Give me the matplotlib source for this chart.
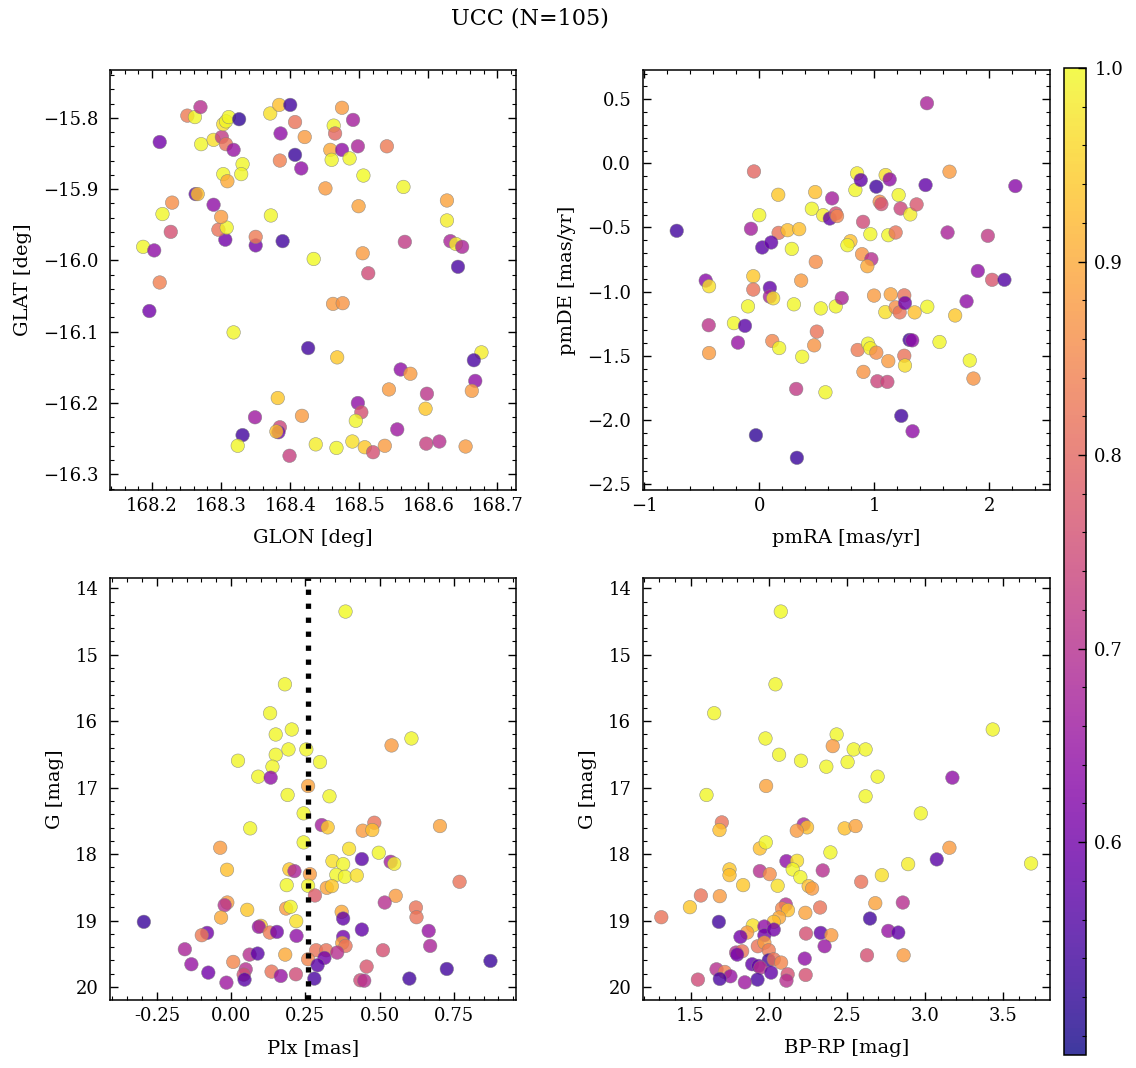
import matplotlib
matplotlib.use("Agg")
import matplotlib.pyplot as plt
from matplotlib.ticker import MultipleLocator, AutoMinorLocator
from matplotlib.colors import Normalize

# panel 1: sky positions
glon = [168.211, 168.251, 168.262, 168.270, 168.271, 168.289, 168.301, 168.303, 168.307, 168.311,
        168.326, 168.307, 168.318, 168.331, 168.303, 168.329, 168.309, 168.371, 168.384, 168.400,
        168.407, 168.386, 168.421, 168.407, 168.385, 168.416, 168.475, 168.463, 168.465, 168.491,
        168.458, 168.475, 168.498, 168.460, 168.486, 168.540, 168.506, 168.451, 168.564, 168.499,
        168.627, 168.627, 168.632, 168.640, 168.649, 168.643, 168.566, 168.505, 168.513, 168.434,
        168.389, 168.350, 168.350, 168.372, 168.306, 168.296, 168.308, 168.300, 168.289, 168.263,
        168.266, 168.229, 168.215, 168.227, 168.187, 168.203,
        168.211, 168.196, 168.462, 168.476, 168.318, 168.426, 168.468, 168.677, 168.666, 168.560,
        168.574, 168.668, 168.543, 168.663, 168.598, 168.382, 168.498, 168.503, 168.596, 168.349,
        168.417, 168.495, 168.555, 168.385, 168.383, 168.380, 168.331, 168.324, 168.399, 168.437,
        168.467, 168.490, 168.508, 168.520, 168.537, 168.597, 168.616, 168.654]
glat = [-15.834, -15.797, -15.799, -15.785, -15.837, -15.831, -15.827, -15.809, -15.805, -15.799,
        -15.802, -15.837, -15.845, -15.865, -15.879, -15.879, -15.889, -15.794, -15.782, -15.782,
        -15.806, -15.822, -15.827, -15.852, -15.860, -15.871, -15.786, -15.811, -15.822, -15.803,
        -15.845, -15.845, -15.840, -15.859, -15.857, -15.840, -15.881, -15.899, -15.897, -15.924,
        -15.916, -15.944, -15.973, -15.977, -15.981, -16.009, -15.974, -15.990, -16.018, -15.998,
        -15.973, -15.979, -15.967, -15.937, -15.971, -15.957, -15.954, -15.939, -15.922, -15.907,
        -15.907, -15.919, -15.935, -15.960, -15.981, -15.986,
        -16.031, -16.071, -16.061, -16.060, -16.101, -16.123, -16.136, -16.129, -16.140, -16.153,
        -16.159, -16.169, -16.181, -16.183, -16.187, -16.193, -16.200, -16.213, -16.208, -16.220,
        -16.218, -16.225, -16.237, -16.234, -16.241, -16.240, -16.245, -16.260, -16.274, -16.258,
        -16.263, -16.254, -16.262, -16.269, -16.260, -16.257, -16.254, -16.261]
prob_sky = [0.60, 0.83, 0.995, 0.70, 0.995, 0.97, 0.72, 0.97, 0.995, 0.995,
            0.52, 0.82, 0.65, 0.995, 0.995, 0.995, 0.90, 0.97, 0.93, 0.54,
            0.82, 0.64, 0.88, 0.53, 0.84, 0.64, 0.88, 0.995, 0.80, 0.67,
            0.90, 0.64, 0.68, 0.995, 0.995, 0.83, 1.0, 0.88, 0.995, 0.89,
            0.89, 0.985, 0.68, 0.985, 0.68, 0.55, 0.72, 0.88, 0.75, 1.0,
            0.54, 0.60, 0.83, 0.995, 0.60, 0.82, 0.995, 0.88, 0.64, 0.58,
            0.93, 0.86, 0.995, 0.76, 0.995, 0.64,
            0.84, 0.60, 0.88, 0.87, 0.995, 0.54, 0.94, 0.985, 0.55, 0.64,
            0.88, 0.64, 0.88, 0.88, 0.71, 0.94, 0.64, 0.76, 0.94, 0.66,
            0.88, 0.995, 0.66, 0.74, 0.60, 0.93, 0.54, 0.995, 0.73, 0.985,
            0.995, 0.97, 0.94, 0.76, 0.88, 0.73, 0.70, 0.88]

# panel 2: proper motions
pmra = [-0.717, -0.046, -0.072, 0.000, 0.165, 0.168, 0.246, 0.347, 0.026, 0.104, 0.283,
        0.457, 0.486, 0.555, 0.613, 0.633, 0.665, 0.676, 0.491, 0.792, 0.766,
        0.835, 0.850, 0.882, 0.902, 0.893, 0.974, 0.939, 0.965, 1.017, 1.046,
        1.061, 1.098, 1.133, 1.121, 1.185, 1.211, 1.228, 1.312, 1.367, 1.457,
        1.445, 1.653, 1.636, 1.986, 2.225, 1.899,
        -0.465, -0.436, -0.052, -0.052, 0.364, 0.092, 0.092, 0.121, -0.098, -0.439,
        -0.220, -0.124, -0.185, -0.436, 0.113, 0.173, 0.301, 0.373, 0.500, 0.477,
        0.535, 0.665, 0.717,
        0.997, 1.142, 1.095, 1.185, 1.220, 1.260, 1.266, 1.350, 1.460, 1.306,
        1.329, 1.566, 1.702, 1.801,
        2.023, 2.130, 0.855, 0.945, 0.965, 1.017, 0.905, 1.026, 1.113, 1.121,
        1.260, 1.266, 1.829, 1.861, 0.321, 0.575, 1.234, 1.332, -0.029, 0.327]
pmde = [-0.526, -0.063, -0.510, -0.404, -0.245, -0.542, -0.521, -0.513, -0.656, -0.617, -0.667,
        -0.354, -0.224, -0.404, -0.430, -0.273, -0.391, -0.411, -0.768, -0.607, -0.638,
        -0.208, -0.078, -0.130, -0.456, -0.708, -0.747, -0.802, -0.552, -0.182, -0.299,
        -0.318, -0.091, -0.125, -0.560, -0.539, -0.247, -0.352, -0.398, -0.320, 0.469,
        -0.169, -0.065, -0.539, -0.565, -0.177, -0.839,
        -0.914, -0.958, -0.880, -0.984, -0.914, -0.971, -1.039, -1.052, -1.115, -1.262,
        -1.246, -1.267, -1.398, -1.479, -1.385, -1.440, -1.099, -1.508, -1.312, -1.419,
        -1.131, -1.115, -1.050,
        -1.031, -1.021, -1.160, -1.123, -1.162, -1.029, -1.089, -1.162, -1.118, -1.377,
        -1.380, -1.393, -1.186, -1.076,
        -0.908, -0.908, -1.455, -1.406, -1.442, -1.476, -1.626, -1.699, -1.704, -1.542,
        -1.500, -1.576, -1.537, -1.678, -1.759, -1.785, -1.969, -2.089, -2.120, -2.296]
prob_pm = [0.54, 0.80, 0.67, 0.995, 0.94, 0.82, 0.93, 0.93, 0.57, 0.58, 0.995,
           0.995, 0.93, 0.985, 0.58, 0.67, 0.76, 0.85, 0.86, 0.93, 0.995,
           0.995, 0.985, 0.58, 0.75, 0.87, 0.70, 0.90, 0.995, 0.54, 0.86,
           0.76, 0.97, 0.64, 0.995, 0.82, 0.995, 0.74, 0.985, 0.77, 0.68,
           0.58, 0.88, 0.68, 0.72, 0.63, 0.64,
           0.63, 0.97, 0.94, 0.82, 0.88, 0.58, 0.68, 0.97, 0.995, 0.71,
           0.995, 0.57, 0.65, 0.88, 0.85, 0.995, 0.995, 0.995, 0.82, 0.87,
           0.995, 0.995, 0.68,
           0.88, 0.89, 0.97, 0.86, 0.82, 0.82, 0.60, 0.93, 0.995, 0.54,
           0.64, 0.995, 0.94, 0.64,
           0.77, 0.56, 0.83, 0.995, 0.985, 0.86, 0.87, 0.74, 0.74, 0.88,
           0.82, 0.97, 0.995, 0.87, 0.72, 0.995, 0.54, 0.64, 0.52, 0.53]

# panel 3: parallax vs G
plx = [0.385, 0.181, 0.131, 0.204, 0.150, 0.193, 0.253, 0.150, 0.023, 0.299,
       0.139, 0.091, 0.133, 0.259, 0.190, 0.331, 0.540, 0.607,
       0.244, 0.064, 0.305, 0.325, 0.482, 0.443, 0.475, 0.703, -0.037, 0.244,
       0.397, 0.497, 0.440, 0.537, 0.549, 0.341, 0.377, -0.014, 0.196, 0.213,
       0.265, 0.354, 0.383, 0.423, 0.769, 0.187, 0.259, 0.322, 0.339, 0.282,
       0.554, 0.517, -0.013, -0.022, 0.054, 0.185, 0.200, 0.372, 0.377, 0.622,
       0.624, -0.294, -0.034, 0.219, 0.100, 0.093, -0.081, -0.099, 0.130, 0.154,
       0.220, 0.440, 0.377, 0.374, 0.385, 0.665, 0.670, -0.156, 0.062, 0.089,
       0.182, 0.286, 0.320, 0.314, 0.357, 0.511, -0.134, 0.007, 0.259, 0.291,
       0.456, 0.873, -0.077, 0.049, 0.042, 0.136, 0.167, 0.218, 0.726, -0.016,
       0.045, 0.280, 0.435, 0.448, 0.600]
gmag_plx = [14.35, 15.445, 15.88, 16.125, 16.20, 16.425, 16.425, 16.505, 16.595, 16.615,
            16.685, 16.835, 16.85, 16.975, 17.11, 17.13, 16.365, 16.26,
            17.387, 17.613, 17.563, 17.598, 17.528, 17.648, 17.638, 17.578, 17.905, 17.824,
            17.920, 17.980, 18.075, 18.116, 18.146, 18.106, 18.151, 18.236, 18.231, 18.256,
            18.302, 18.312, 18.342, 18.322, 18.417, 18.467, 18.477, 18.508, 18.482, 18.623,
            18.628, 18.729, 18.729, 18.769, 18.839, 18.819, 18.794, 18.869, 18.970, 18.804,
            18.950, 19.020, 18.955, 19.010, 19.080, 19.095, 19.186, 19.221, 19.181, 19.171,
            19.231, 19.136, 19.246, 19.337, 19.382, 19.156, 19.382, 19.432, 19.513, 19.497,
            19.513, 19.447, 19.447, 19.563, 19.482, 19.447, 19.658, 19.623, 19.583, 19.673,
            19.693, 19.608, 19.784, 19.734, 19.814, 19.769, 19.834, 19.809, 19.729, 19.935,
            19.889, 19.874, 19.899, 19.905, 19.874]
prob_plx = [1.0, 0.995, 0.995, 0.995, 0.995, 0.995, 0.995, 0.995, 0.995, 0.995,
            0.995, 0.995, 0.64, 0.89, 0.995, 0.995, 0.88, 0.995,
            0.995, 0.995, 0.67, 0.94, 0.82, 0.88, 0.93, 0.89, 0.88, 0.995,
            0.97, 0.995, 0.57, 0.67, 0.985, 0.97, 0.995, 0.93, 0.94, 0.68,
            0.88, 0.995, 0.995, 0.97, 0.82, 0.995, 0.995, 0.89, 0.94, 0.78,
            0.88, 0.70, 0.88, 0.70, 0.94, 0.88, 0.995, 0.90, 0.58, 0.82,
            0.82, 0.53, 0.90, 0.97, 0.94, 0.65, 0.60, 0.83, 0.83, 0.60,
            0.64, 0.58, 0.60, 0.89, 0.82, 0.65, 0.68, 0.68, 0.70, 0.57,
            0.90, 0.82, 0.82, 0.60, 0.70, 0.76, 0.65, 0.85, 0.85, 0.57,
            0.77, 0.53, 0.60, 0.70, 0.76, 0.82, 0.65, 0.75, 0.54, 0.66,
            0.57, 0.55, 0.75, 0.70, 0.54]
plx_median = 0.26

# panel 4: colour-magnitude
bprp = [2.077, 2.043, 1.651, 1.979, 2.434, 2.409, 2.066, 2.543, 2.619, 2.206,
        2.504, 2.368, 2.696, 3.174, 1.983, 1.602, 2.619, 3.432,
        2.972, 1.700, 1.685, 2.223, 2.245, 2.179, 2.485, 2.555, 1.943, 1.981,
        2.394, 3.155, 3.074, 3.677, 2.891, 2.113, 2.181, 2.153, 1.749, 1.749,
        1.943, 2.006, 2.202, 2.345, 2.723, 2.591, 1.836, 2.057, 2.255, 2.277,
        1.566, 1.687, 1.496, 1.313, 2.109, 2.085, 2.123, 2.234, 2.328, 2.681,
        2.857, 2.066, 2.032, 1.681, 1.898, 1.862, 1.819, 1.972, 1.972, 2.032,
        2.238, 2.332, 2.400, 2.647, 2.764, 2.828, 1.930, 1.972, 2.000, 2.357,
        1.791, 1.830, 1.798, 2.230, 2.628, 2.862, 2.000, 2.032, 2.079, 1.894,
        1.934, 1.947, 2.015, 1.666, 1.719, 1.755, 1.687, 1.928, 1.847, 1.547,
        2.121, 2.113, 2.236]
gmag_cmd = [14.35, 15.445, 15.88, 16.26, 16.20, 16.375, 16.505, 16.425, 16.425, 16.595,
            16.615, 16.685, 16.835, 16.85, 16.975, 17.11, 17.13, 16.125,
            17.387, 17.523, 17.638, 17.553, 17.598, 17.648, 17.613, 17.578, 17.915, 17.824,
            17.975, 17.905, 18.080, 18.141, 18.151, 18.106, 18.101, 18.231, 18.231, 18.317,
            18.256, 18.302, 18.347, 18.246, 18.317, 18.417, 18.467, 18.477, 18.482, 18.518,
            18.623, 18.633, 18.799, 18.950, 18.759, 18.819, 18.844, 18.884, 18.804, 18.739,
            18.729, 18.955, 19.020, 19.020, 19.075, 19.181, 19.246, 19.090, 19.221, 19.136,
            19.196, 19.186, 19.221, 18.970, 19.156, 19.181, 19.387, 19.332, 19.447, 19.387,
            19.482, 19.462, 19.513, 19.573, 19.523, 19.523, 19.598, 19.583, 19.633, 19.658,
            19.683, 19.709, 19.784, 19.734, 19.774, 19.839, 19.879, 19.889, 19.930, 19.889,
            19.809, 19.905, 19.819]
prob_cmd = [1.0, 0.995, 0.995, 0.995, 0.995, 0.88, 0.995, 0.995, 0.995, 0.995,
            0.995, 0.995, 0.995, 0.64, 0.89, 0.995, 0.995, 0.995,
            0.995, 0.82, 0.93, 0.67, 0.93, 0.88, 0.93, 0.89, 0.93, 0.995,
            0.995, 0.88, 0.57, 0.995, 0.985, 0.64, 0.97, 0.995, 0.94, 0.93,
            0.70, 0.86, 0.995, 0.70, 0.97, 0.82, 0.94, 0.97, 0.93, 0.88,
            0.82, 0.88, 0.94, 0.82, 0.70, 0.85, 0.93, 0.89, 0.82, 0.89,
            0.70, 0.90, 0.93, 0.54, 0.97, 0.88, 0.60, 0.64, 0.60, 0.60,
            0.76, 0.58, 0.88, 0.54, 0.65, 0.58, 0.82, 0.88, 0.83, 0.65,
            0.70, 0.82, 0.60, 0.64, 0.76, 0.88, 0.54, 0.82, 0.85, 0.58,
            0.58, 0.70, 0.58, 0.70, 0.84, 0.65, 0.55, 0.55, 0.66, 0.75,
            0.76, 0.70, 0.76]

plt.rcParams["font.family"] = "DejaVu Serif"
plt.rcParams["font.size"] = 13
plt.rcParams["axes.labelsize"] = 14
plt.rcParams["axes.linewidth"] = 1.1

fig = plt.figure(figsize=(11.36, 10.68), dpi=100)
W, H = 1136, 1068

def box(x0, y0, x1, y1):
    return [x0 / W, 1 - y1 / H, (x1 - x0) / W, (y1 - y0) / H]

ax1 = fig.add_axes(box(110, 70, 516, 490))
ax2 = fig.add_axes(box(643, 70, 1050, 490))
ax3 = fig.add_axes(box(110, 578, 516, 1000))
ax4 = fig.add_axes(box(643, 578, 1050, 1000))
cax = fig.add_axes(box(1064, 68, 1086, 1055))

norm = Normalize(vmin=0.49, vmax=1.0)
kw = dict(cmap="plasma", norm=norm, s=95, alpha=0.8, edgecolors="grey", linewidths=0.4)

sc = ax1.scatter(glon, glat, c=prob_sky, **kw)
ax2.scatter(pmra, pmde, c=prob_pm, **kw)
ax3.scatter(plx, gmag_plx, c=prob_plx, **kw)
ax3.axvline(plx_median, color="black", ls=":", lw=3.8)
ax4.scatter(bprp, gmag_cmd, c=prob_cmd, **kw)

ax1.set_xlim(168.139, 168.727)
ax1.set_ylim(-16.322, -15.733)
ax1.xaxis.set_major_locator(MultipleLocator(0.1))
ax1.yaxis.set_major_locator(MultipleLocator(0.1))
ax1.set_xlabel("GLON [deg]")
ax1.set_ylabel("GLAT [deg]")

ax2.set_xlim(-1.01, 2.526)
ax2.set_ylim(-2.547, 0.728)
ax2.xaxis.set_major_locator(MultipleLocator(1))
ax2.yaxis.set_major_locator(MultipleLocator(0.5))
ax2.set_xlabel("pmRA [mas/yr]")
ax2.set_ylabel("pmDE [mas/yr]")

ax3.set_xlim(-0.408, 0.959)
ax3.set_ylim(20.196, 13.845)
ax3.xaxis.set_major_locator(MultipleLocator(0.25))
ax3.yaxis.set_major_locator(MultipleLocator(1))
ax3.set_xlabel("Plx [mas]")
ax3.set_ylabel("G [mag]")

ax4.set_xlim(1.196, 3.798)
ax4.set_ylim(20.196, 13.845)
ax4.xaxis.set_major_locator(MultipleLocator(0.5))
ax4.yaxis.set_major_locator(MultipleLocator(1))
ax4.set_xlabel("BP-RP [mag]")
ax4.set_ylabel("G [mag]")

for ax in (ax1, ax2, ax3, ax4):
    ax.xaxis.set_minor_locator(AutoMinorLocator(5))
    ax.yaxis.set_minor_locator(AutoMinorLocator(5))
    ax.tick_params(which="both", direction="in", top=True, right=True)
    ax.tick_params(which="major", length=6, width=1)
    ax.tick_params(which="minor", length=3, width=0.8)
    ax.tick_params(axis="x", which="major", pad=5)
    ax.tick_params(axis="y", which="major", pad=8.5)
    ax.xaxis.labelpad = 10
    ax.yaxis.labelpad = 8

ax3.xaxis.set_major_formatter(plt.FormatStrFormatter("%.2f"))

cb = fig.colorbar(sc, cax=cax, ticks=[0.6, 0.7, 0.8, 0.9, 1.0])
cb.ax.yaxis.set_minor_locator(MultipleLocator(0.02))
cb.ax.yaxis.set_major_formatter(plt.FormatStrFormatter("%.1f"))
cb.ax.tick_params(which="both", direction="in", left=False, right=True)
cb.ax.tick_params(which="major", length=6, width=1, pad=6)
cb.ax.tick_params(which="minor", length=3, width=0.8)
cb.outline.set_linewidth(1.1)

fig.text(530 / W, 1 - 19 / H, "UCC (N=105)", ha="center", va="center", fontsize=16)

fig.savefig("out.png", dpi=100)
